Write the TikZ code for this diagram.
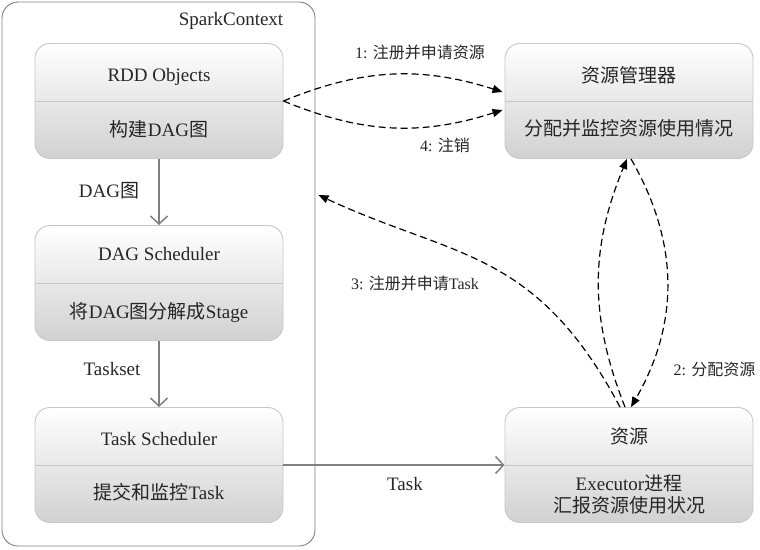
\documentclass[tikz,border=0pt]{standalone}
\usepackage{fontspec}
\setmainfont{Liberation Serif}
\newfontfamily\cjk{Noto Sans CJK SC}
\newcommand\zh[1]{{\cjk #1}}
\usepackage{tikz}
\usetikzlibrary{arrows.meta,calc,positioning}

\tikzset{
	container/.style={draw=black!50, line width=.9pt, rounded corners=16pt,
		minimum width=313pt, minimum height=544pt},
	stage/.style={draw=black!22, line width=.9pt, rounded corners=15pt,
		top color=white, bottom color=black!18,
		minimum width=248pt, minimum height=115pt},
	divider/.style={draw=black!22, line width=.9pt},
	txt/.style={font=\fontsize{19}{22}\selectfont, text=black!85,
		text height=14pt, text depth=4pt, inner sep=0pt},
	small/.style={font=\fontsize{16}{19}\selectfont, text=black!85, inner sep=0pt},
	flow/.style={draw=black!50, line width=1.5pt,
		-{Straight Barb[length=8pt,width=17pt]}},
	msg/.style={line width=1.2pt, dash pattern=on 7pt off 4pt,
		-{Triangle[length=10pt,width=8pt]}},
}

\begin{document}
\begin{tikzpicture}[x=1pt, y=1pt, node distance=182pt, on grid]
				\useasboundingbox (0,0) rectangle (760,-549);
				
				\node (sc) [container] at (158.5,-274) {};
				\node (sclabel) [txt] at (231,-20) {SparkContext};
				
				\node (rdd) [stage] at (159,-101) {};
				\node (dag) [stage, below=of rdd] {};
				\node (task) [stage, below=of dag] {};
				\node (rm) [stage, right=470pt of rdd] {};
				\node (res) [stage, right=470pt of task] {};
				
				\foreach \n in {rdd,dag,task,rm,res}
					\draw[divider] (\n.west) -- (\n.east);
				%
				\node (rddT) [txt, above=25pt of rdd] {RDD Objects};
				\node (rddB) [txt, below=30pt of rdd] {\zh{构建}DAG\zh{图}};
				\node (dagT) [txt, above=28pt of dag] {DAG Scheduler};
				\node (dagB) [txt, below=30pt of dag] {\zh{将}DAG\zh{图分解成}Stage};
				\node (taskT) [txt, above=25pt of task] {Task Scheduler};
				\node (taskB) [txt, below=29pt of task] {\zh{提交和监控}Task};
				\node (rmT) [txt, above=24pt of rm] {\zh{资源管理器}};
				\node (rmB) [txt, below=29pt of rm] {\zh{分配并监控资源使用情况}};
				\node (resT) [txt, above=27pt of res] {\zh{资源}};
				\node (resB) [txt, below=29pt of res, align=center, text height=, text depth=]
					{Executor\zh{进程}\\\zh{汇报资源使用状况}};
				
				\coordinate (rmA) at ($(rm.west)+(-2,9)$);
				\coordinate (rmD) at ($(rm.west)+(-2,-9)$);
				\coordinate (scin) at ($(sc.east)+(3,79)$);
				
				\draw[flow] (rdd) -- node[txt, xshift=-50pt] {DAG\zh{图}} (dag);
				\draw[flow] (dag) -- node[txt, xshift=-47pt, yshift=4pt] {Taskset} (task);
				\draw[flow] (task) -- node[txt, xshift=11pt, yshift=-20pt] {Task} (res);
				%
				\draw[msg] (rdd.east) to[bend left=20]
					node[small, xshift=28pt, yshift=22pt] {1: \zh{注册并申请资源}} (rmA);
				\draw[msg] (rdd.east) to[bend right=20]
					node[small, xshift=53pt, yshift=-18pt] {4: \zh{注销}} (rmD);
				\draw[msg] ($(res.north)+(-4,0)$) to[bend left=22] ($(rm.south)+(-2,0)$);
				\draw[msg] ($(rm.south)+(2,0)$) to[bend left=30]
					node[small, pos=.85, xshift=65pt] {2: \zh{分配资源}} ($(res.north)+(2,0)$);
				\draw[msg] ($(res.north)+(-9,0)$)
					to[out=118, in=-25, out looseness=1.25, in looseness=1.04] (scin);
				\node (lbl3) [small] at (415,-283) {3: \zh{注册并申请}Task};
\end{tikzpicture}
\end{document}
